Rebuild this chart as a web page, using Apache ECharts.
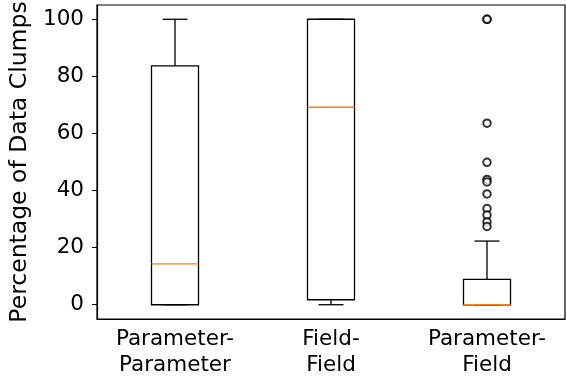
<!DOCTYPE html>
<html>
<head>
<meta charset="utf-8">
<script src="https://cdn.jsdelivr.net/npm/echarts@6/dist/echarts.min.js"></script>
<style>html,body{margin:0;padding:0;background:#fff}#c{width:567px;height:376px}</style>
</head>
<body>
<div id="c"></div>
<script>
const categories = ['Parameter-\nParameter', 'Field-\nField', 'Parameter-\nField'];
const whiskerLow = [0, 0, 0];
const q1 = [0, 1.75, 0];
const median = [14.3, 69.2, 0];
const q3 = [83.7, 100, 8.9];
const whiskerHigh = [100, 100, 22.3];
const outliers = [[], [], [100, 100, 63.6, 49.9, 43.9, 43.0, 38.8, 33.7, 31.4, 29.0, 27.4]];
const yTicks = [0, 20, 40, 60, 80, 100];

const boxData = categories.map((c, i) => [i, whiskerLow[i], q1[i], median[i], q3[i], whiskerHigh[i]]);
const outlierData = [];
outliers.forEach((arr, i) => arr.forEach(v => outlierData.push([i, v])));

const FONT = 'DejaVu Sans';
const chart = echarts.init(document.getElementById('c'));
chart.setOption({
  animation: false,
  backgroundColor: '#fff',
  grid: { left: 97, right: 2, top: 5, bottom: 57, show: true, borderColor: '#000', borderWidth: 1.2,
          containLabel: false, outerBoundsMode: 'none' },
  xAxis: {
    type: 'category',
    data: categories,
    boundaryGap: true,
    axisLine: { onZero: false, lineStyle: { color: '#000', width: 1.2 } },
    axisTick: { alignWithLabel: true, length: 5, lineStyle: { color: '#000' } },
    axisLabel: { color: '#000', fontFamily: FONT, fontSize: 21.5, lineHeight: 26, margin: 7 },
    splitLine: { show: false }
  },
  yAxis: {
    type: 'value',
    min: -5, max: 105,
    name: 'Percentage of Data Clumps',
    nameLocation: 'middle',
    nameGap: 60,
    nameTextStyle: { color: '#000', fontFamily: FONT, fontSize: 23.5 },
    axisLine: { show: true, onZero: false, lineStyle: { color: '#000', width: 1.2 } },
    axisTick: { show: true, length: 5, customValues: yTicks, lineStyle: { color: '#000' } },
    axisLabel: { color: '#000', fontFamily: FONT, fontSize: 21.5, margin: 13, customValues: yTicks },
    splitLine: { show: false }
  },
  series: [
    {
      type: 'custom',
      data: boxData,
      encode: { x: 0, y: [1, 2, 3, 4, 5] },
      renderItem: function (params, api) {
        const idx = api.value(0);
        const x = api.coord([idx, 0])[0];
        const yLow = api.coord([idx, api.value(1)])[1];
        const yQ1 = api.coord([idx, api.value(2)])[1];
        const yMed = api.coord([idx, api.value(3)])[1];
        const yQ3 = api.coord([idx, api.value(4)])[1];
        const yHigh = api.coord([idx, api.value(5)])[1];
        const hw = 23.5, cw = 12.5;
        const black = { stroke: '#000', lineWidth: 1.3, fill: null };
        return {
          type: 'group',
          children: [
            { type: 'line', shape: { x1: x, y1: yQ1, x2: x, y2: yLow }, style: black },
            { type: 'line', shape: { x1: x, y1: yQ3, x2: x, y2: yHigh }, style: black },
            { type: 'line', shape: { x1: x - cw, y1: yLow, x2: x + cw, y2: yLow }, style: black },
            { type: 'line', shape: { x1: x - cw, y1: yHigh, x2: x + cw, y2: yHigh }, style: black },
            { type: 'rect', shape: { x: x - hw, y: yQ3, width: 2 * hw, height: yQ1 - yQ3 }, style: black },
            { type: 'line', shape: { x1: x - hw, y1: yMed, x2: x + hw, y2: yMed }, style: { stroke: '#ff7f0e', lineWidth: 1.4 } }
          ]
        };
      }
    },
    {
      type: 'scatter',
      data: outlierData,
      symbol: 'emptyCircle',
      symbolSize: 7.5,
      itemStyle: { color: '#000', borderColor: '#000', borderWidth: 1.5 }
    }
  ]
});
</script>
</body>
</html>
